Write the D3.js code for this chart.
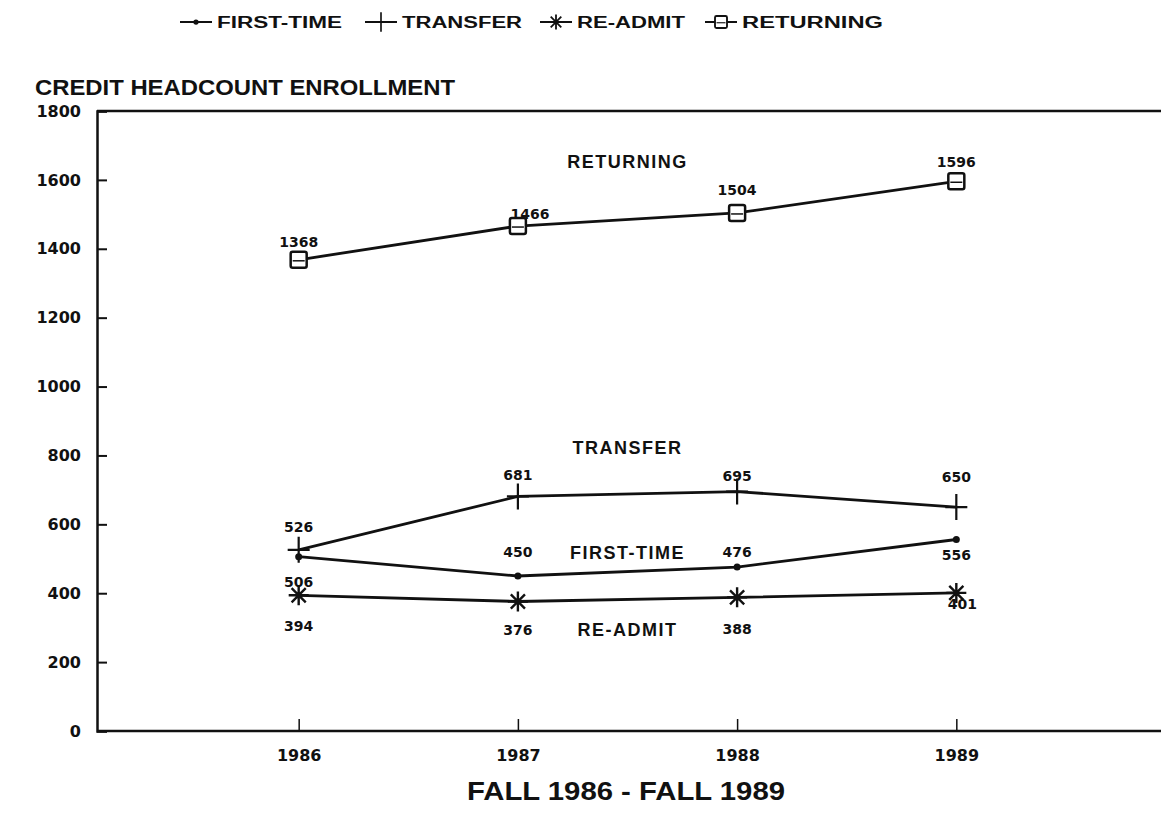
<!DOCTYPE html>
<html lang="en">
<head>
<meta charset="utf-8">
<title>Credit Headcount Enrollment</title>
<script src="https://cdn.jsdelivr.net/npm/d3@7"></script>
<style>
  body { margin: 0; background: #fff; }
  text { fill: #111; }
</style>
</head>
<body>
<script>
// Data
var years = ["1986", "1987", "1988", "1989"];
var seriesNames = ["FIRST-TIME", "TRANSFER", "RE-ADMIT", "RETURNING"];
var firstTime = [506, 450, 476, 556];
var transfer = [526, 681, 695, 650];
var readmit = [394, 376, 388, 401];
var returning = [1368, 1466, 1504, 1596];
var yTicks = [0, 200, 400, 600, 800, 1000, 1200, 1400, 1600, 1800];

// label placement (pixels) for each point's value text
var labelDy = {
  "FIRST-TIME": [25, -24, -15, 15],
  "TRANSFER": [-23, -21, -16, -30],
  "RE-ADMIT": [31, 28, 32, 11],
  "RETURNING": [-18, -12, -23, -19]
};
var labelDx = {
  "FIRST-TIME": [0, 0, 0, 0],
  "TRANSFER": [0, 0, 0, 0],
  "RE-ADMIT": [0, 0, 0, 6],
  "RETURNING": [0, 12, 0, 0]
};
// series name captions, placed in data units
var captionValue = {"RETURNING": 1652, "TRANSFER": 822, "FIRST-TIME": 518, "RE-ADMIT": 296};

var values = {"FIRST-TIME": firstTime, "TRANSFER": transfer, "RE-ADMIT": readmit, "RETURNING": returning};

var W = 1161, H = 814;
var svg = d3.select("body").append("svg")
  .attr("width", W)
  .attr("height", H);

var x = d3.scalePoint().domain(years).range([97, 1158]).padding(0.92);
var y = d3.scaleLinear().domain([0, 1800]).range([731, 111]);

var numFont = "'DejaVu Sans', sans-serif";
var txtFont = "'Liberation Sans', Arial, sans-serif";

// frame top line
svg.append("line")
  .attr("x1", 97).attr("x2", W)
  .attr("y1", y(1800)).attr("y2", y(1800))
  .attr("stroke", "#111").attr("stroke-width", 2.5);

// y axis
var yAxis = svg.append("g")
  .attr("transform", "translate(97,0)")
  .call(d3.axisLeft(y).tickValues(yTicks).tickFormat(d3.format("d")).tickSize(-10).tickPadding(16));
yAxis.select(".domain").attr("stroke", "#111").attr("stroke-width", 2.5);
yAxis.selectAll(".tick line").attr("stroke", "#111").attr("stroke-width", 2);
yAxis.selectAll("text")
  .style("font-family", numFont).style("font-weight", "bold").style("font-size", "16px");

// x axis
var xAxis = svg.append("g")
  .attr("transform", "translate(0," + y(0) + ")")
  .call(d3.axisBottom(x).tickSize(-12).tickPadding(19));
xAxis.select(".domain").attr("d", "M97,0H" + W).attr("stroke", "#111").attr("stroke-width", 2.5);
xAxis.selectAll(".tick line").attr("stroke", "#111").attr("stroke-width", 1.5);
xAxis.selectAll("text")
  .style("font-family", numFont).style("font-weight", "bold").style("font-size", "16px");

// chart title
svg.append("text")
  .attr("x", 35).attr("y", 95)
  .attr("textLength", 420).attr("lengthAdjust", "spacingAndGlyphs")
  .style("font-family", txtFont).style("font-weight", "bold").style("font-size", "22px")
  .text("CREDIT HEADCOUNT ENROLLMENT");

// x axis title
svg.append("text")
  .attr("x", 626).attr("y", 800).attr("text-anchor", "middle")
  .attr("textLength", 318).attr("lengthAdjust", "spacingAndGlyphs")
  .style("font-family", txtFont).style("font-weight", "bold").style("font-size", "25px")
  .text("FALL 1986 - FALL 1989");

// markers
function drawMarker(g, name) {
  if (name === "FIRST-TIME") {
    g.append("circle").attr("r", 3.5).attr("fill", "#111");
  } else if (name === "TRANSFER") {
    g.append("path").attr("d", "M-11,0H11M0,-13V13")
      .attr("stroke", "#111").attr("stroke-width", 2.2).attr("fill", "none");
  } else if (name === "RE-ADMIT") {
    var d = "";
    for (var k = 0; k < 4; k++) {
      var a = k * Math.PI / 4;
      d += "M" + (-10 * Math.cos(a)) + "," + (-10 * Math.sin(a)) + "L" + (10 * Math.cos(a)) + "," + (10 * Math.sin(a));
    }
    g.append("path").attr("d", d)
      .attr("stroke", "#111").attr("stroke-width", 2.4).attr("fill", "none");
  } else {
    g.append("rect").attr("x", -8).attr("y", -8).attr("width", 16).attr("height", 16).attr("rx", 2)
      .attr("stroke", "#111").attr("stroke-width", 2.5).attr("fill", "#fff");
    g.append("line").attr("x1", -6).attr("x2", 6).attr("y1", 1).attr("y2", 1)
      .attr("stroke", "#111").attr("stroke-width", 1.5);
  }
}

var line = d3.line()
  .x(function(d, i) { return x(years[i]); })
  .y(function(d) { return y(d); });

var drawOrder = ["RETURNING", "TRANSFER", "FIRST-TIME", "RE-ADMIT"];
drawOrder.forEach(function(name) {
  var vals = values[name];
  svg.append("path")
    .datum(vals)
    .attr("d", line)
    .attr("fill", "none")
    .attr("stroke", "#111")
    .attr("stroke-width", 2.8);

  var pts = svg.selectAll("g.pt-" + name)
    .data(vals)
    .enter()
    .append("g")
    .attr("transform", function(d, i) { return "translate(" + x(years[i]) + "," + y(d) + ")"; });
  pts.each(function() { drawMarker(d3.select(this), name); });

  svg.selectAll("text.lab-" + name)
    .data(vals)
    .enter()
    .append("text")
    .attr("x", function(d, i) { return x(years[i]) + labelDx[name][i]; })
    .attr("y", function(d, i) { return y(d) + labelDy[name][i]; })
    .attr("dy", "0.36em")
    .attr("text-anchor", "middle")
    .style("font-family", numFont).style("font-weight", "bold").style("font-size", "14px")
    .text(function(d) { return d; });

  svg.append("text")
    .attr("x", (x("1987") + x("1988")) / 2)
    .attr("y", y(captionValue[name]))
    .attr("dy", "0.36em")
    .attr("text-anchor", "middle")
    .style("font-family", txtFont).style("font-weight", "bold").style("font-size", "18px")
    .style("letter-spacing", "1.5px")
    .text(name);
});

// legend
var legendX = [180, 365, 540, 705];
var legendTextLen = [125, 120, 108, 141];
seriesNames.forEach(function(name, i) {
  var g = svg.append("g").attr("transform", "translate(" + legendX[i] + ",22)");
  g.append("line").attr("x1", 0).attr("x2", 32).attr("y1", 0).attr("y2", 0)
    .attr("stroke", "#111").attr("stroke-width", 2);
  var m = g.append("g").attr("transform", "translate(16,0) scale(0.75)");
  drawMarker(m, name);
  g.append("text")
    .attr("x", 37).attr("y", 0).attr("dy", "0.36em")
    .attr("textLength", legendTextLen[i]).attr("lengthAdjust", "spacingAndGlyphs")
    .style("font-family", txtFont).style("font-weight", "bold").style("font-size", "16px")
    .text(name);
});
</script>
</body>
</html>
